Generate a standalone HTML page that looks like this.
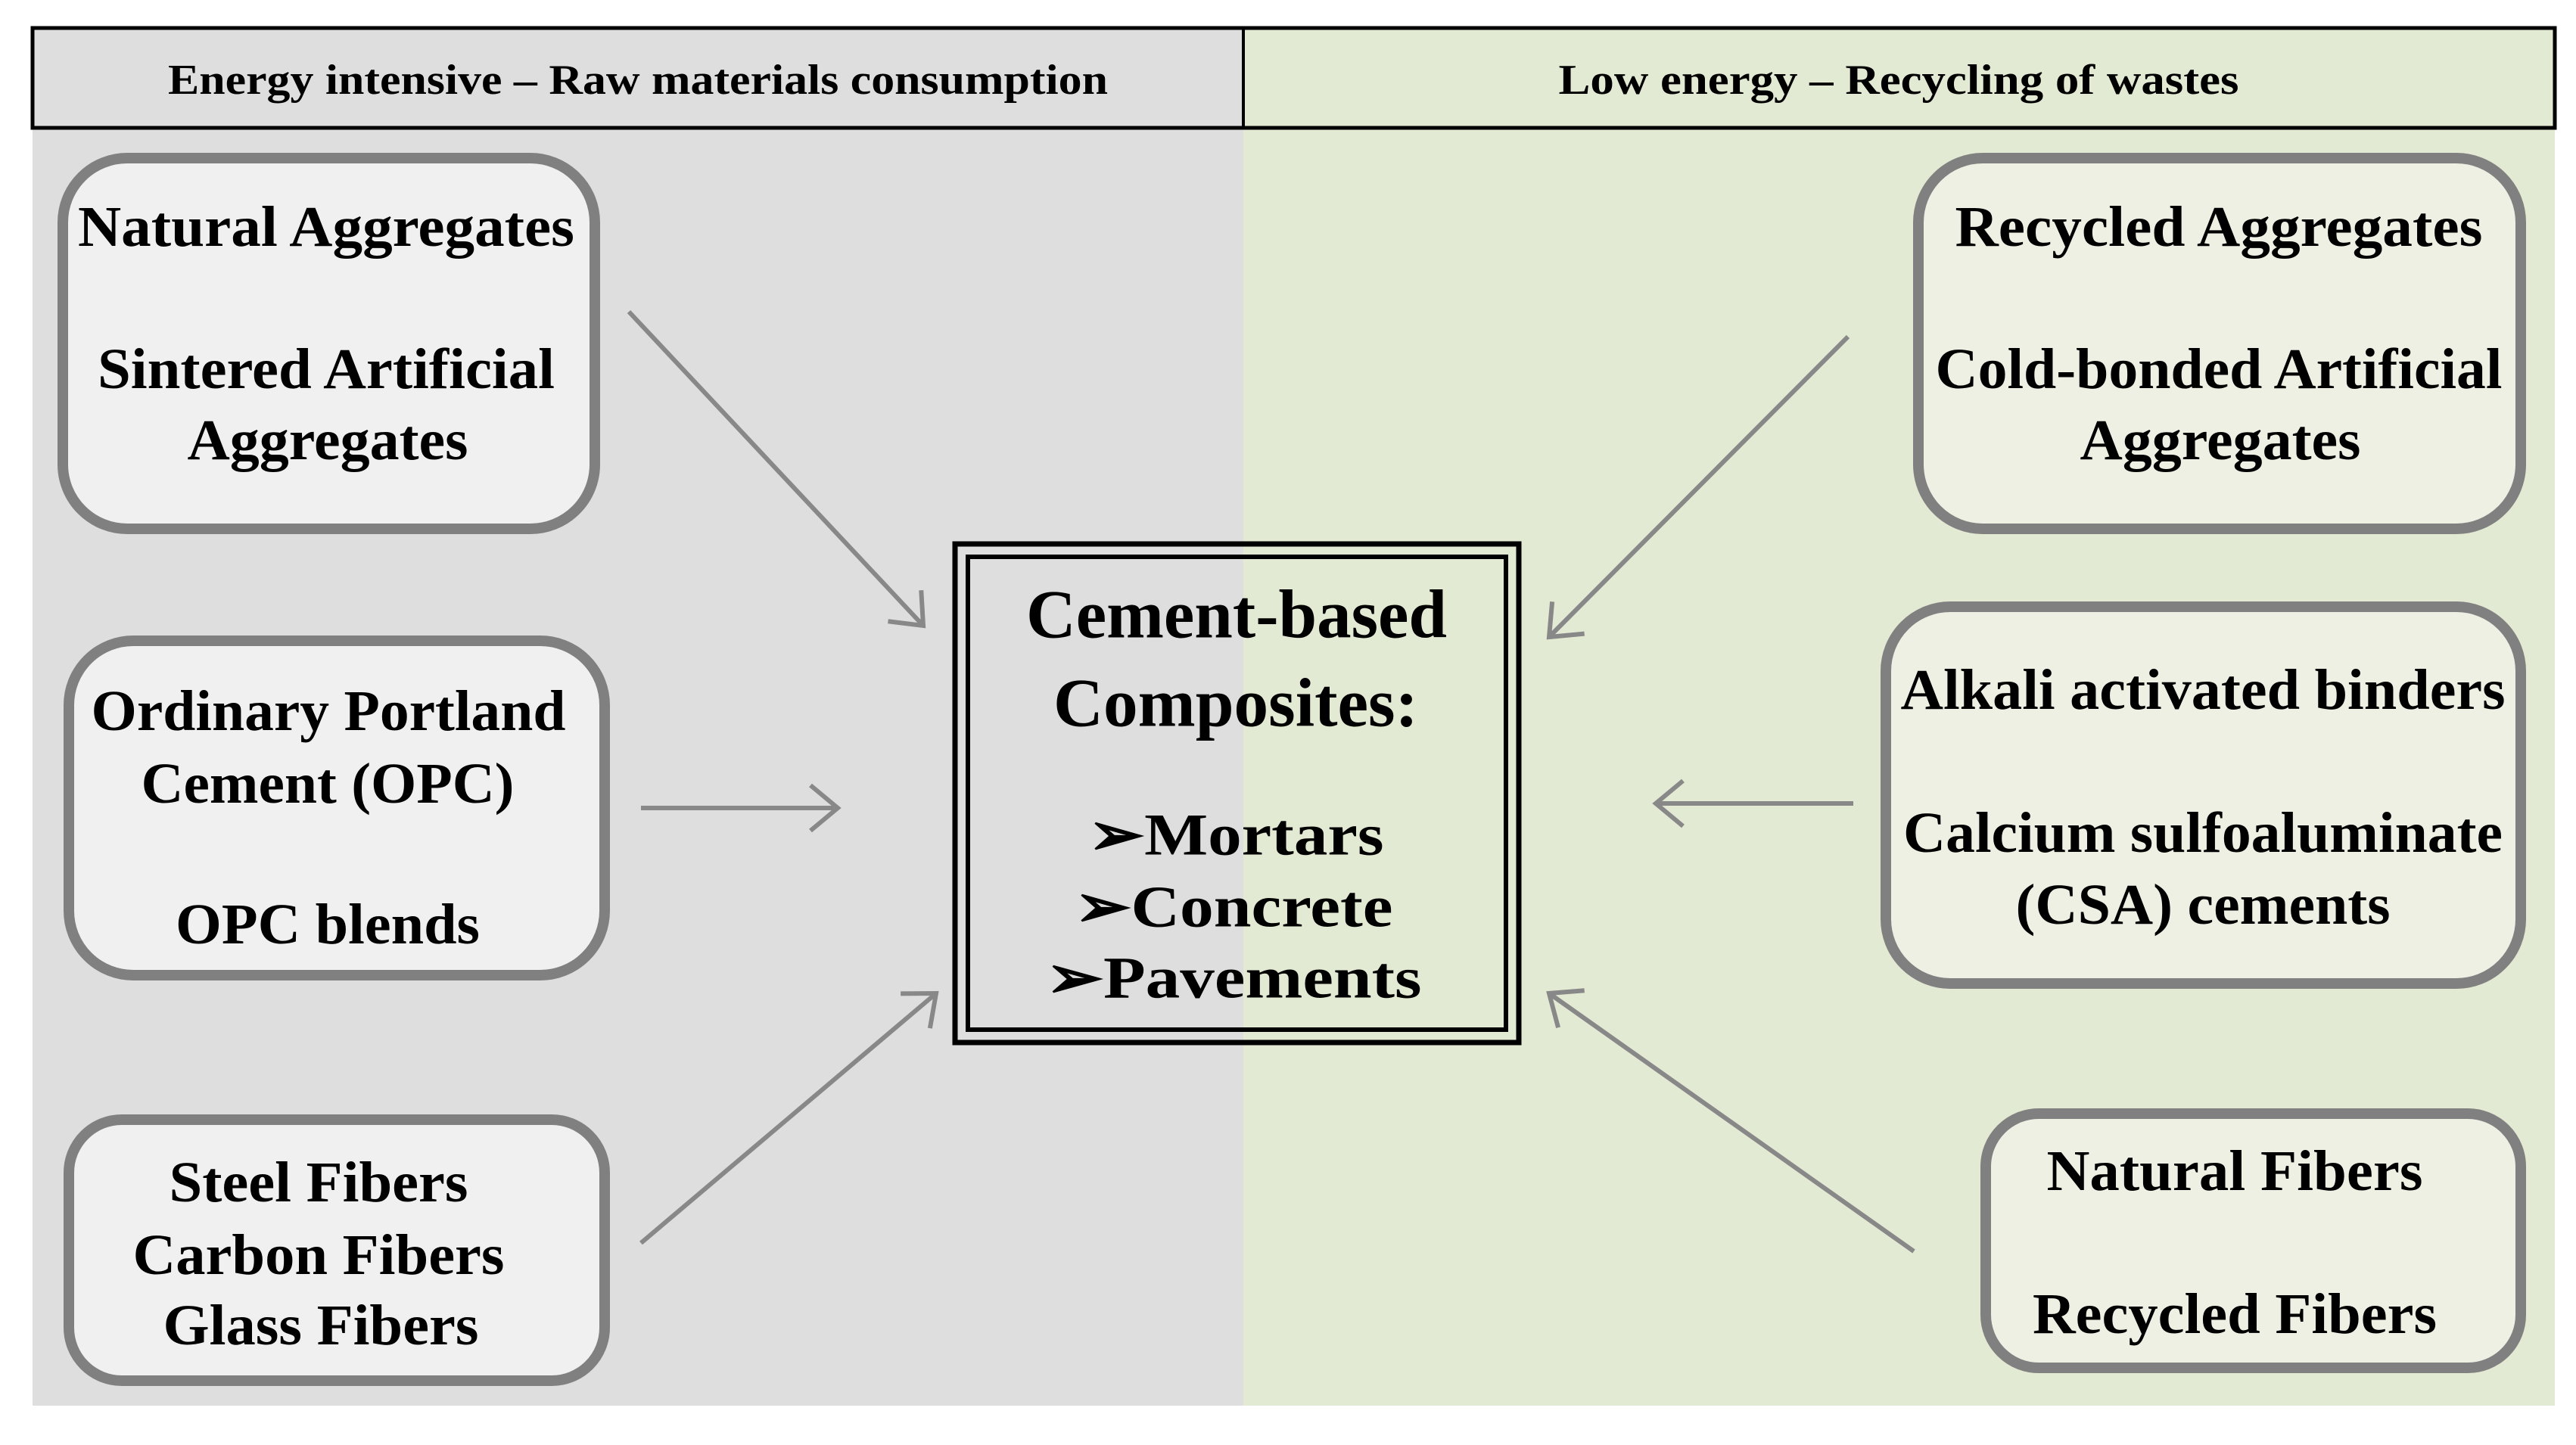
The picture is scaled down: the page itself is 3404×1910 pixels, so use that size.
<!DOCTYPE html>
<html><head><meta charset="utf-8"><style>
html,body{margin:0;padding:0;background:#fff;}
svg{display:block;}
text{font-family:"Liberation Serif",serif;font-weight:bold;fill:#000;}
</style></head><body>
<svg width="3404" height="1910" viewBox="0 0 3404 1910" xmlns="http://www.w3.org/2000/svg">
<defs>
<marker id="ah" viewBox="0 0 20 20" refX="18" refY="10" markerWidth="20" markerHeight="20" markerUnits="userSpaceOnUse" orient="auto" overflow="visible">
<path d="M-36,-20 L0,10 L-36,40" transform="translate(18,0)" fill="none" stroke="#888" stroke-width="6"/>
</marker>
</defs>
<rect x="0" y="0" width="3404" height="1910" fill="#fff"/>
<rect x="43" y="169" width="1600" height="1689" fill="#dedede"/>
<rect x="1643" y="169" width="1733" height="1689" fill="#e3ead3"/>
<!-- header -->
<rect x="43" y="37" width="1600" height="132" fill="#dedede"/>
<rect x="1643" y="37" width="1733" height="132" fill="#e3ead3"/>
<rect x="43" y="37" width="3333" height="132" fill="none" stroke="#000" stroke-width="5"/>
<line x1="1643" y1="37" x2="1643" y2="169" stroke="#000" stroke-width="4"/>
<text x="843" y="106" font-size="56" text-anchor="middle" dominant-baseline="central" textLength="1242" lengthAdjust="spacingAndGlyphs">Energy intensive – Raw materials consumption</text>
<text x="2509" y="106" font-size="56" text-anchor="middle" dominant-baseline="central" textLength="899" lengthAdjust="spacingAndGlyphs">Low energy – Recycling of wastes</text>

<g fill="#f0f0f0" stroke="#808080" stroke-width="14">
<rect x="83" y="209" width="703" height="490" rx="85"/>
<rect x="91" y="847" width="708" height="442" rx="85"/>
<rect x="91" y="1480" width="708" height="345" rx="70"/>
</g>
<g fill="#eef0e3" stroke="#808080" stroke-width="14">
<rect x="2535" y="209" width="796" height="490" rx="85"/>
<rect x="2492" y="802" width="839" height="498" rx="85"/>
<rect x="2624" y="1472" width="707" height="336" rx="70"/>
</g>
<g font-size="76" text-anchor="middle" dominant-baseline="central">
<text x="431" y="300" textLength="656" lengthAdjust="spacingAndGlyphs">Natural Aggregates</text>
<text x="431" y="488" textLength="604" lengthAdjust="spacingAndGlyphs">Sintered Artificial</text>
<text x="433" y="582" textLength="371" lengthAdjust="spacingAndGlyphs">Aggregates</text>
<text x="434" y="940" textLength="627" lengthAdjust="spacingAndGlyphs">Ordinary Portland</text>
<text x="433" y="1036" textLength="493" lengthAdjust="spacingAndGlyphs">Cement (OPC)</text>
<text x="433" y="1222" textLength="402" lengthAdjust="spacingAndGlyphs">OPC blends</text>
<text x="421" y="1563" textLength="395" lengthAdjust="spacingAndGlyphs">Steel Fibers</text>
<text x="421" y="1659" textLength="491" lengthAdjust="spacingAndGlyphs">Carbon Fibers</text>
<text x="424" y="1752" textLength="417" lengthAdjust="spacingAndGlyphs">Glass Fibers</text>
<text x="2932" y="300" textLength="697" lengthAdjust="spacingAndGlyphs">Recycled Aggregates</text>
<text x="2932" y="488" textLength="749" lengthAdjust="spacingAndGlyphs">Cold-bonded Artificial</text>
<text x="2934" y="582" textLength="371" lengthAdjust="spacingAndGlyphs">Aggregates</text>
<text x="2911" y="912" textLength="799" lengthAdjust="spacingAndGlyphs">Alkali activated binders</text>
<text x="2911" y="1101" textLength="792" lengthAdjust="spacingAndGlyphs">Calcium sulfoaluminate</text>
<text x="2911" y="1196" textLength="495" lengthAdjust="spacingAndGlyphs">(CSA) cements</text>
<text x="2953" y="1548" textLength="497" lengthAdjust="spacingAndGlyphs">Natural Fibers</text>
<text x="2953" y="1737" textLength="534" lengthAdjust="spacingAndGlyphs">Recycled Fibers</text>
</g>

<rect x="1262" y="719" width="745" height="659" fill="none" stroke="#000" stroke-width="7"/>
<rect x="1279" y="736" width="711" height="625" fill="none" stroke="#000" stroke-width="6"/>
<g text-anchor="middle" dominant-baseline="central">
<text x="1634" y="812" font-size="91" textLength="556" lengthAdjust="spacingAndGlyphs">Cement-based</text>
<text x="1633" y="929" font-size="91" textLength="482" lengthAdjust="spacingAndGlyphs">Composites:</text>
<text x="1633" y="1103" font-size="78" textLength="391" lengthAdjust="spacingAndGlyphs">➢Mortars</text>
<text x="1630" y="1198" font-size="78" textLength="421" lengthAdjust="spacingAndGlyphs">➢Concrete</text>
<text x="1630" y="1292" font-size="78" textLength="497" lengthAdjust="spacingAndGlyphs">➢Pavements</text>
</g>

<g stroke="#888" stroke-width="6" fill="none" marker-end="url(#ah)">
<line x1="831" y1="412" x2="1220" y2="827"/>
<line x1="847" y1="1068" x2="1107" y2="1068"/>
<line x1="847" y1="1643" x2="1237" y2="1313"/>
<line x1="2442" y1="445" x2="2047" y2="842"/>
<line x1="2449" y1="1062" x2="2188" y2="1062"/>
<line x1="2529" y1="1654" x2="2047" y2="1313"/>
</g>
</svg>
</body></html>
